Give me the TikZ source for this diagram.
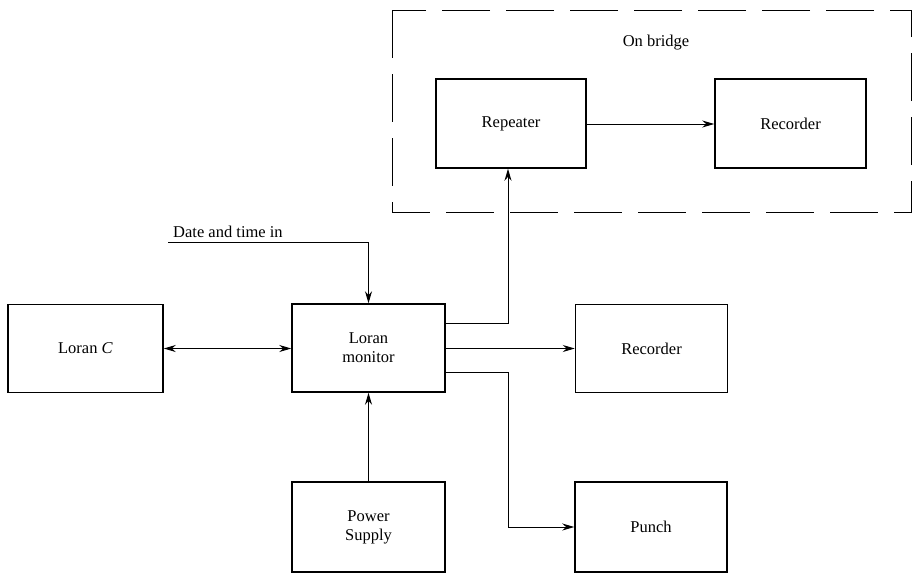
\documentclass[tikz,border=0pt]{standalone}
\usepackage{fontspec}
\setmainfont{Liberation Serif}
\usetikzlibrary{arrows.meta}
\begin{document}
\begin{tikzpicture}[x=1pt,y=-1pt,
  box/.style={draw, line width=1.5pt, minimum width=153pt, minimum height=88pt, inner sep=0pt, align=center, font=\fontsize{16.5}{19}\selectfont},
  conn/.style={line width=1pt},
  tip/.style={Stealth[length=12pt,width=7pt]},
  arr/.style={conn, -{Stealth[length=12pt,width=7pt]}},
  lbl/.style={font=\fontsize{16.5}{19}\selectfont, inner sep=0pt}]
\useasboundingbox (0,0) rectangle (915,573);
% dashed enclosure
\draw[line width=1pt, dash pattern=on 48pt off 16pt] (392,10) rectangle (911,212);
\node[lbl] (onbridge) at (656,43) {On bridge};
% boxes
\node[box, minimum width=150pt, minimum height=89pt] (rep) at (511,123.5) {Repeater};
\node[box, minimum width=151pt, minimum height=89pt] (rec1) at (790.5,123.5) {Recorder};
\node[box, minimum width=155pt] (loranc) at (85.5,348.5) {Loran \textit{C}};
\node[box] (mon) at (368.5,348) {Loran\\monitor};
\node[box, minimum width=152pt] (rec2) at (651.5,348.5) {Recorder};
\node[box, minimum width=152pt, minimum height=90pt] (punch) at (651,527) {Punch};
\node[box, minimum height=90pt] (power) at (368.5,527) {Power\\Supply};
% date input
\node[lbl, anchor=base west] (date) at (173,237) {Date and time in};
\coordinate (datein) at (168,242);
% connectors
\draw[arr] (rep.east |- 0,124) -- (rec1.west |- 0,124);
\draw[conn, {Stealth[length=12pt,width=7pt]}-{Stealth[length=12pt,width=7pt]}] (loranc.east) -- (mon.west |- loranc.east);
\draw[arr] (datein) -| (mon.north);
\draw[arr] (mon.east |- 0,323) -| ([xshift=-3pt]rep.south);
\draw[arr] (mon.east |- 0,348.5) -- (rec2.west);
\draw[arr] (mon.east |- 0,372) -| (508,527) -- (punch.west);
\draw[arr] (power.north) -- (mon.south);
\end{tikzpicture}
\end{document}
